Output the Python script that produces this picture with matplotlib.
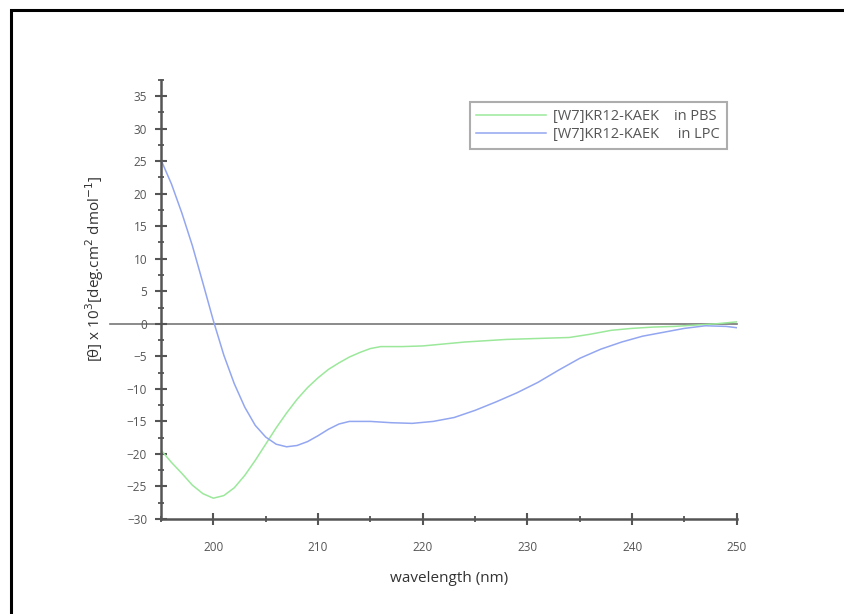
import matplotlib
matplotlib.use("Agg")
import matplotlib.pyplot as plt
import matplotlib.transforms as mtransforms
from matplotlib.patches import Rectangle
from matplotlib.ticker import MultipleLocator

plt.rcParams['font.family'] = ['Open Sans', 'DejaVu Sans']

# CD spectrum, peptide in PBS buffer
wl_pbs = [195, 196, 197, 198, 199, 200, 201, 202, 203, 204, 205, 206, 207, 208,
          209, 210, 211, 212, 213, 214, 215, 216, 218, 220, 222, 224, 226, 228,
          230, 232, 234, 236, 238, 240, 242, 244, 246, 248, 250]
theta_pbs = [-19.4, -21.3, -23.0, -24.8, -26.1, -26.8, -26.4, -25.2, -23.3, -21.0,
             -18.5, -16.0, -13.7, -11.6, -9.8, -8.3, -7.0, -6.0, -5.1, -4.4, -3.8,
             -3.5, -3.5, -3.4, -3.1, -2.8, -2.6, -2.4, -2.3, -2.2, -2.1, -1.6,
             -1.0, -0.7, -0.5, -0.4, -0.2, 0.0, 0.3]

# CD spectrum, peptide in LPC micelles
wl_lpc = [195, 196, 197, 198, 199, 200, 201, 202, 203, 204, 205, 206, 207, 208,
          209, 210, 211, 212, 213, 215, 217, 219, 221, 223, 225, 227, 229, 231,
          233, 235, 237, 239, 241, 243, 245, 247, 249, 250]
theta_lpc = [25.2, 21.5, 17.0, 12.0, 6.3, 0.5, -4.8, -9.2, -12.8, -15.6, -17.4,
             -18.5, -18.9, -18.7, -18.1, -17.2, -16.2, -15.4, -15.0, -15.0, -15.2,
             -15.3, -15.0, -14.4, -13.3, -12.0, -10.6, -9.0, -7.1, -5.3, -3.9,
             -2.8, -1.9, -1.3, -0.7, -0.3, -0.4, -0.6]

labels = ["[W7]KR12-KAEK    in PBS", "[W7]KR12-KAEK     in LPC"]

fig = plt.figure(figsize=(8.45, 6.14), dpi=100)
ax = fig.add_axes([0.1905, 0.1547, 0.6815, 0.7153])

# outer frame around the figure
fig.patches.append(Rectangle((11 / 845, -0.05), 1.0, 1 - 10 / 614 + 0.05,
                             transform=fig.transFigure, fill=False,
                             edgecolor='black', linewidth=2.2))

ax.plot(wl_pbs, theta_pbs, color='#9be89b', lw=1.1, label=labels[0])
ax.plot(wl_lpc, theta_lpc, color='#93a6f0', lw=1.1, label=labels[1])

# baseline at zero, running past the y axis
trans = mtransforms.blended_transform_factory(ax.transAxes, ax.transData)
ax.plot([-0.089, 1.0], [0, 0], color='#777777', lw=1.2, transform=trans,
        clip_on=False, zorder=1)

ax.set_xlim(195, 250)
ax.set_ylim(-30, 37.5)
ax.xaxis.set_major_locator(MultipleLocator(10))
ax.xaxis.set_minor_locator(MultipleLocator(5))
ax.yaxis.set_major_locator(MultipleLocator(5))
ax.yaxis.set_minor_locator(MultipleLocator(2.5))

for s in ['top', 'right']:
    ax.spines[s].set_visible(False)
for s in ['left', 'bottom']:
    ax.spines[s].set_color('#555555')
    ax.spines[s].set_linewidth(1.8)

ax.tick_params(which='major', direction='inout', length=8, width=1.5,
               color='#555555', labelsize=8.5, labelcolor='#555555')
ax.tick_params(axis='x', which='major', pad=12)
ax.tick_params(axis='y', which='major', pad=6)
ax.tick_params(which='minor', direction='inout', length=5, width=1.3,
               color='#555555')

ax.set_xlabel("wavelength (nm)", fontsize=11, color='#333333')
ax.xaxis.set_label_coords(0.5, -0.118)
ax.set_ylabel("[θ] x 10$^3$[deg.cm$^2$ dmol$^{-1}$]", fontsize=11,
              color='#333333')
ax.yaxis.set_label_coords(-0.095, 0.57)

leg = ax.legend(loc='upper right', bbox_to_anchor=(0.995, 0.965), fontsize=10.5,
                frameon=True, fancybox=False, handlelength=4.8,
                borderpad=0.45, labelspacing=0.2, handletextpad=0.5)
leg.get_frame().set_edgecolor('#999999')
leg.get_frame().set_linewidth(1.5)
for t in leg.get_texts():
    t.set_color('#555555')

fig.savefig("out.png", dpi=100)
